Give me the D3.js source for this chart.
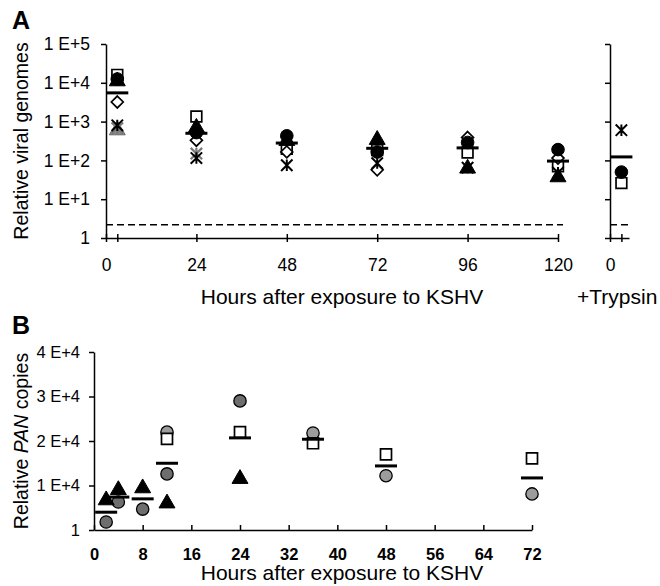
<!DOCTYPE html>
<html>
<head>
<meta charset="utf-8">
<script src="https://cdn.jsdelivr.net/npm/d3@7"></script>
<style>
  body { margin: 0; background: #fff; }
  svg { font-family: "Liberation Sans", Arial, Helvetica, sans-serif; }
</style>
</head>
<body>
<div id="chart"></div>
<script>
// ---- Panel A: relative viral genomes (log scale)
const hoursA = [3, 24, 48, 72, 96, 120]
const genomesSquare = [16000, 1350, 200, 185, 160, 70]
const genomesGrayTriangle = [600, null, null, null, null, null]
const genomesGrayCross = [680, 150, null, null, null, null]
const genomesDiamond = [3200, 330, 165, 57, 390, 115]
const genomesTriangle = [11000, 700, 320, 340, 62, 37]
const genomesCircle = [12500, 520, 430, 165, 290, 190]
const genomesAsterisk = [800, 115, 75, 85, 65, 48]
const genomesMean = [5500, 500, 280, 205, 210, 96]
const detectionLimit = 2.2

const yTicksA = [1, 10, 100, 1000, 10000, 100000]
const yTickLabelsA = ["1", "1 E+1", "1 E+2", "1 E+3", "1 E+4", "1 E+5"]
const xTicksA = [0, 3, 24, 48, 72, 96, 120]

// +Trypsin control
const trypsinHour = [3]
const trypsinSquare = [26]
const trypsinCircle = [50]
const trypsinAsterisk = [600]
const trypsinMean = [123]

// ---- Panel B: relative PAN copies (linear)
const hoursB = [2, 4, 8, 12, 24, 36, 48, 72]
const panDarkCircle = [1800, 6300, 4700, 12600, 29000, null, null, null]
const panLightCircle = [null, null, null, 22000, null, 21800, 12200, 8100]
const panSquare = [null, null, null, 20500, 22000, 19500, 17000, 16100]
const panTriangle = [6700, 9000, 9400, 6000, 11500, null, null, null]
const panMean = [4000, 7400, 7000, 15000, 20700, 20400, 14400, 11700]

const yTicksB = [0, 10000, 20000, 30000, 40000]
const yTickLabelsB = ["1", "1 E+4", "2 E+4", "3 E+4", "4 E+4"]
const xTicksB = [0, 8, 16, 24, 32, 40, 48, 56, 64, 72]

// asterisk drawn as an X crossed by a vertical stroke
const symbolStar = {
  draw(ctx, size) {
    const r = Math.sqrt(size) / 2
    ctx.moveTo(0, -r); ctx.lineTo(0, r)
    ctx.moveTo(-r, -r); ctx.lineTo(r, r)
    ctx.moveTo(-r, r); ctx.lineTo(r, -r)
  }
}
const symbolDiamond = d3.symbolDiamond2 || d3.symbolDiamond

const svg = d3.select("#chart").append("svg")
  .attr("width", 660)
  .attr("height", 586)

// strip d3's default axis styling and apply the figure's
function styleAxis(g, fontSize, bold) {
  g.attr("font-size", null).attr("font-family", null)
  g.selectAll("path, line").attr("stroke", "#000").attr("stroke-width", 1.5)
  g.selectAll("text")
    .attr("fill", "#000")
    .style("font-size", `${fontSize}px`)
    .style("font-weight", bold ? "bold" : "normal")
}

function pairs(xs, ys) {
  return xs.map((x, i) => ({ x, y: ys[i] })).filter(d => d.y != null)
}

function drawMarkers(g, data, x, y, opts) {
  g.selectAll(null)
    .data(data)
    .enter().append("path")
    .attr("transform", d => `translate(${x(d.x)},${y(d.y)})`)
    .attr("d", d3.symbol().type(opts.type).size(opts.size))
    .attr("fill", opts.fill)
    .attr("stroke", opts.stroke)
    .attr("stroke-width", opts.strokeWidth || 1.5)
}

function drawMeans(g, data, x, y, half) {
  g.selectAll(null)
    .data(data)
    .enter().append("line")
    .attr("x1", d => x(d.x) - half)
    .attr("x2", d => x(d.x) + half)
    .attr("y1", d => y(d.y))
    .attr("y2", d => y(d.y))
    .attr("stroke", "#000")
    .attr("stroke-width", 3)
}

// ================= Panel A =================
const xA = d3.scaleLinear().domain([0, 120]).range([106, 558])
const yA = d3.scaleLog().domain([1, 1e5]).range([238, 44])
const xT = d3.scaleLinear().domain([0, 5]).range([610, 629])

const panelA = svg.append("g")

panelA.append("text")
  .attr("x", 12).attr("y", 29)
  .attr("font-size", 25).attr("font-weight", "bold")
  .text("A")

panelA.append("g")
  .attr("transform", `translate(${xA(0)},0)`)
  .call(d3.axisLeft(yA).tickValues(yTicksA).tickSizeInner(5).tickSizeOuter(0)
    .tickPadding(11).tickFormat((d, i) => yTickLabelsA[i]))
  .call(styleAxis, 17.5)

const xAxisA = panelA.append("g")
  .attr("transform", `translate(0,${yA(1)})`)
  .call(d3.axisBottom(xA).tickValues(xTicksA).tickSizeInner(4).tickSizeOuter(0)
    .tickPadding(17).tickFormat(d => d === 3 ? "" : d))
  .call(styleAxis, 17.5)
xAxisA.selectAll(".tick line").attr("y1", -4)

panelA.append("line")
  .attr("x1", xA(0)).attr("x2", xA(120) + 5)
  .attr("y1", yA(detectionLimit)).attr("y2", yA(detectionLimit))
  .attr("stroke", "#000").attr("stroke-width", 1.5)
  .attr("stroke-dasharray", "7,4")

const yMidA = (yA(1) + yA(1e5)) / 2
panelA.append("text")
  .attr("x", 28).attr("y", yMidA)
  .attr("transform", `rotate(-90,28,${yMidA})`)
  .attr("text-anchor", "middle").attr("font-size", 19.5)
  .text("Relative viral genomes")

panelA.append("text")
  .attr("x", 342).attr("y", 304)
  .attr("text-anchor", "middle").attr("font-size", 21)
  .text("Hours after exposure to KSHV")

const marksA = panelA.append("g")
drawMarkers(marksA, pairs(hoursA, genomesSquare), xA, yA, { type: d3.symbolSquare, size: 115, fill: "#fff", stroke: "#000", strokeWidth: 1.7 })
drawMarkers(marksA, pairs(hoursA, genomesGrayTriangle), xA, yA, { type: d3.symbolTriangle, size: 110, fill: "#8a8a8a", stroke: "#6a6a6a", strokeWidth: 1 })
drawMarkers(marksA, pairs(hoursA, genomesGrayCross), xA, yA, { type: symbolStar, size: 130, fill: "none", stroke: "#7a7a7a", strokeWidth: 2.2 })
drawMarkers(marksA, pairs(hoursA, genomesDiamond), xA, yA, { type: symbolDiamond, size: 90, fill: "#fff", stroke: "#000", strokeWidth: 1.7 })
drawMarkers(marksA, pairs(hoursA, genomesTriangle), xA, yA, { type: d3.symbolTriangle, size: 110, fill: "#000", stroke: "#000", strokeWidth: 1 })
drawMarkers(marksA, pairs(hoursA, genomesCircle), xA, yA, { type: d3.symbolCircle, size: 125, fill: "#000", stroke: "#000", strokeWidth: 1 })
drawMarkers(marksA, pairs(hoursA, genomesAsterisk), xA, yA, { type: symbolStar, size: 130, fill: "none", stroke: "#000", strokeWidth: 2 })
drawMeans(marksA, pairs(hoursA, genomesMean), xA, yA, 11)

// +Trypsin side panel
panelA.append("g")
  .attr("transform", `translate(${xT(0)},0)`)
  .call(d3.axisLeft(yA).tickValues(yTicksA).tickSizeInner(5).tickSizeOuter(0).tickFormat(""))
  .call(styleAxis, 17.5)

const xAxisT = panelA.append("g")
  .attr("transform", `translate(0,${yA(1)})`)
  .call(d3.axisBottom(xT).tickValues([0, 3]).tickSizeInner(4).tickSizeOuter(0)
    .tickPadding(17).tickFormat(d => d === 0 ? "0" : ""))
  .call(styleAxis, 17.5)
xAxisT.selectAll(".tick line").attr("y1", -4)

panelA.append("line")
  .attr("x1", xT(0)).attr("x2", xT(5) + 3)
  .attr("y1", yA(detectionLimit)).attr("y2", yA(detectionLimit))
  .attr("stroke", "#000").attr("stroke-width", 1.5)
  .attr("stroke-dasharray", "7,4")

panelA.append("text")
  .attr("x", 577).attr("y", 304)
  .attr("font-size", 21)
  .text("+Trypsin")

const marksT = panelA.append("g")
drawMarkers(marksT, pairs(trypsinHour, trypsinSquare), xT, yA, { type: d3.symbolSquare, size: 115, fill: "#fff", stroke: "#000", strokeWidth: 1.7 })
drawMarkers(marksT, pairs(trypsinHour, trypsinCircle), xT, yA, { type: d3.symbolCircle, size: 125, fill: "#000", stroke: "#000", strokeWidth: 1 })
drawMarkers(marksT, pairs(trypsinHour, trypsinAsterisk), xT, yA, { type: symbolStar, size: 130, fill: "none", stroke: "#000", strokeWidth: 2 })
drawMeans(marksT, pairs(trypsinHour, trypsinMean), xT, yA, 11)

// ================= Panel B =================
const xB = d3.scaleLinear().domain([0, 72]).range([94, 532])
const yB = d3.scaleLinear().domain([0, 40000]).range([530, 352])

const panelB = svg.append("g")

panelB.append("text")
  .attr("x", 12).attr("y", 334)
  .attr("font-size", 25).attr("font-weight", "bold")
  .text("B")

panelB.append("g")
  .attr("transform", `translate(${xB(0)},0)`)
  .call(d3.axisLeft(yB).tickValues(yTicksB).tickSizeInner(5).tickSizeOuter(0)
    .tickPadding(9).tickFormat((d, i) => yTickLabelsB[i]))
  .call(styleAxis, 16.5)

panelB.append("g")
  .attr("transform", `translate(0,${yB(0)})`)
  .call(d3.axisBottom(xB).tickValues(xTicksB).tickSizeInner(-5).tickSizeOuter(0)
    .tickPadding(18))
  .call(styleAxis, 16.5, true)

const yMidB = (yB(0) + yB(40000)) / 2
const titleB = panelB.append("text")
  .attr("x", 28).attr("y", yMidB)
  .attr("transform", `rotate(-90,28,${yMidB})`)
  .attr("text-anchor", "middle").attr("font-size", 19.5)
titleB.append("tspan").text("Relative ")
titleB.append("tspan").attr("font-style", "italic").text("PAN")
titleB.append("tspan").text(" copies")

panelB.append("text")
  .attr("x", 342).attr("y", 580)
  .attr("text-anchor", "middle").attr("font-size", 21)
  .text("Hours after exposure to KSHV")

const marksB = panelB.append("g")
drawMarkers(marksB, pairs(hoursB, panDarkCircle), xB, yB, { type: d3.symbolCircle, size: 120, fill: "#6e6e6e", stroke: "#000", strokeWidth: 1.3 })
drawMarkers(marksB, pairs(hoursB, panLightCircle), xB, yB, { type: d3.symbolCircle, size: 120, fill: "#9c9c9c", stroke: "#000", strokeWidth: 1.3 })
drawMarkers(marksB, pairs(hoursB, panSquare), xB, yB, { type: d3.symbolSquare, size: 121, fill: "#fff", stroke: "#000", strokeWidth: 1.7 })
drawMarkers(marksB, pairs(hoursB, panTriangle), xB, yB, { type: d3.symbolTriangle, size: 110, fill: "#000", stroke: "#000", strokeWidth: 1 })
drawMeans(marksB, pairs(hoursB, panMean), xB, yB, 11)
</script>
</body>
</html>
